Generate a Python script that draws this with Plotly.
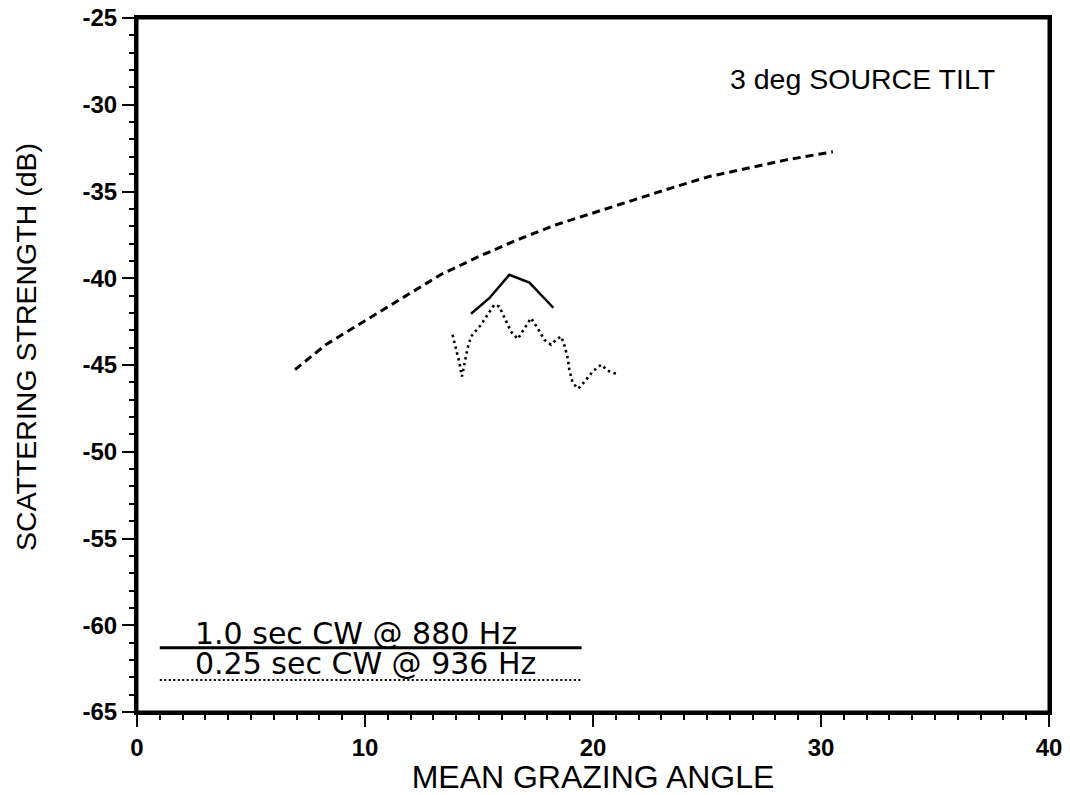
import plotly.graph_objects as go

# ---- data ----
model_x = [6.93, 8.28, 9.95, 11.63, 13.31, 14.99, 16.67, 18.35, 20.03, 21.70, 23.38, 25.06, 26.74, 28.42, 30.52]
model_y = [-45.27, -43.83, -42.49, -41.15, -39.80, -38.75, -37.79, -36.93, -36.22, -35.49, -34.82, -34.15, -33.67, -33.19, -32.71]

cw880_x = [14.65, 15.45, 16.33, 17.21, 18.26]
cw880_y = [-42.05, -41.15, -39.80, -40.25, -41.70]

cw936_x = [13.84, 13.99, 14.13, 14.25, 14.35, 14.50, 14.65, 15.09, 15.38, 15.67, 15.89, 16.18, 16.40,
           16.70, 16.99, 17.28, 17.57, 17.87, 18.16, 18.38, 18.60, 18.74, 18.89, 18.96, 19.11, 19.36,
           19.70, 19.99, 20.36, 20.65, 21.12]
cw936_y = [-43.26, -44.00, -44.80, -45.66, -45.00, -44.03, -43.35, -42.68, -42.10, -41.53, -41.63, -42.40,
           -43.07, -43.50, -42.88, -42.30, -42.88, -43.55, -43.83, -43.55, -43.35, -43.83, -44.60, -45.27,
           -46.04, -46.36, -45.85, -45.37, -44.98, -45.33, -45.56]

legend_x = [1.0, 19.5]
legend_880_y = -61.3
legend_936_y = -63.15
legend_880_label = "1.0 sec CW @ 880 Hz"
legend_936_label = "0.25 sec CW @ 936 Hz"

x_tickvals = [0, 10, 20, 30, 40]
x_ticktext = ["0", "10", "20", "30", "40"]
y_tickvals = [-25, -30, -35, -40, -45, -50, -55, -60, -65]
y_ticktext = ["-25", "-30", "-35", "-40", "-45", "-50", "-55", "-60", "-65"]

panel_label = "3 deg SOURCE TILT"
x_title = "MEAN GRAZING ANGLE"
y_title = "SCATTERING STRENGTH (dB)"

FONT = "Liberation Sans, Arial, sans-serif"
WIDE_FONT = "DejaVu Sans, Liberation Sans, sans-serif"

fig = go.Figure()

fig.add_trace(go.Scatter(x=model_x, y=model_y, mode="lines",
                         line=dict(color="black", width=3, dash="8px,5px"),
                         showlegend=False, hoverinfo="skip"))
fig.add_trace(go.Scatter(x=cw880_x, y=cw880_y, mode="lines",
                         line=dict(color="black", width=2.5),
                         showlegend=False, hoverinfo="skip"))
fig.add_trace(go.Scatter(x=cw936_x, y=cw936_y, mode="lines",
                         line=dict(color="black", width=2.6, dash="2.5px,3.5px"),
                         showlegend=False, hoverinfo="skip"))

# hand-drawn style legend inside plot
fig.add_trace(go.Scatter(x=legend_x, y=[legend_880_y] * len(legend_x), mode="lines",
                         line=dict(color="black", width=3),
                         showlegend=False, hoverinfo="skip"))
fig.add_trace(go.Scatter(x=legend_x, y=[legend_936_y] * len(legend_x), mode="lines",
                         line=dict(color="black", width=2, dash="2px,2.5px"),
                         showlegend=False, hoverinfo="skip"))

fig.add_annotation(x=2.45, y=-60.45, xref="x", yref="y", text=legend_880_label,
                   showarrow=False, xanchor="left", yanchor="middle",
                   font=dict(family=WIDE_FONT, size=30, color="black"))
fig.add_annotation(x=2.45, y=-62.2, xref="x", yref="y", text=legend_936_label,
                   showarrow=False, xanchor="left", yanchor="middle",
                   font=dict(family=WIDE_FONT, size=30, color="black"))
fig.add_annotation(x=25.94, y=-28.5, xref="x", yref="y", text=panel_label,
                   showarrow=False, xanchor="left", yanchor="middle",
                   font=dict(family=FONT, size=28.5, color="black"))
fig.add_annotation(x=-0.1217, y=0.526, xref="paper", yref="paper", text=y_title,
                   showarrow=False, xanchor="center", yanchor="middle", textangle=-90,
                   font=dict(family=FONT, size=28.5, color="black"))

# plot frame
fig.add_shape(type="rect", xref="paper", yref="paper", x0=0, y0=0, x1=1, y1=1,
              line=dict(color="black", width=3), layer="above")

axis_common = dict(
    showgrid=False, zeroline=False, showline=True, linecolor="black", linewidth=3,
    mirror=True, ticks="outside", ticklen=12, tickwidth=2, tickcolor="black",
    ticklabeloverflow="allow",
    tickfont=dict(family=FONT, size=24, color="black", weight="bold"),
)

fig.update_xaxes(range=[0, 40], tickvals=x_tickvals, ticktext=x_ticktext,
                 minor=dict(dtick=1, ticks="outside", ticklen=5, tickwidth=1.5, tickcolor="black"),
                 title=dict(text=x_title, font=dict(family=FONT, size=32, color="black"), standoff=12),
                 **axis_common)
fig.update_yaxes(range=[-65, -25], tickvals=y_tickvals, ticktext=y_ticktext,
                 minor=dict(dtick=1, ticks="outside", ticklen=5, tickwidth=1.5, tickcolor="black"),
                 **axis_common)

# the page body adds an 8px offset, so the figure is sized to fit the 1070x795 window
fig.update_layout(width=1062, height=787,
                  margin=dict(l=129, r=21, t=10, b=83, autoexpand=False),
                  paper_bgcolor="white", plot_bgcolor="white")

fig.write_html("out.html")
